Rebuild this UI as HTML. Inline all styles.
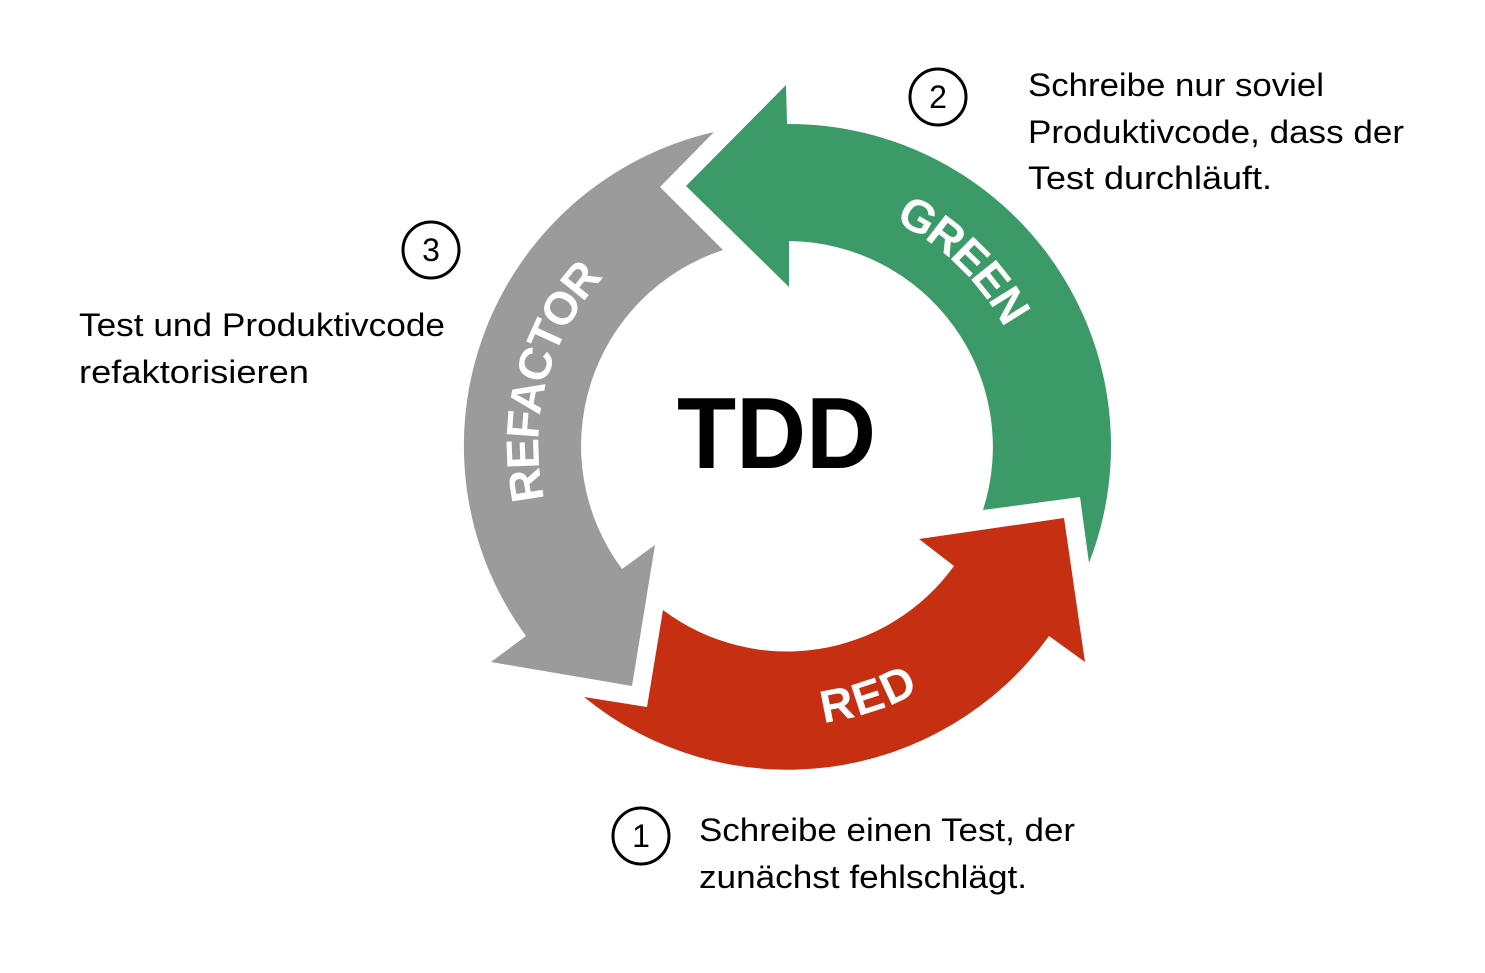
<!DOCTYPE html>
<html><head><meta charset="utf-8"><style>html,body{margin:0;padding:0;background:#fff}</style></head>
<body>
<svg width="1485" height="968" viewBox="0 0 1485 968" xmlns="http://www.w3.org/2000/svg">
<defs>
<path id="pg" d="M 758,182 A264 264 0 0 1 1049,463"/>
<path id="pr" d="M 646,669 A264 264 0 0 0 1031,544"/>
<path id="pf" d="M 570,596 A264 264 0 0 1 674,206"/>
</defs>
<path fill="#3c9a68" d="M787,124 A322,322 0 0 1 1089,563 L1080,497 L983,510 A206,206 0 0 0 789,241 L789,287 L686,186 L786,85 Z"/>
<path fill="#c72f13" d="M663,610 A206,206 0 0 0 954,566 L919,539 L1064,518 L1085,662 L1049,636 A322,322 0 0 1 584,697 L647,707 Z"/>
<path fill="#9b9b9b" d="M622,569 A206,206 0 0 1 723,250 L660,187 L714,132 A322,322 0 0 0 526,636 L491,662 L632,686 L655,545 Z"/>
<g font-family="Liberation Sans, sans-serif" font-weight="bold" font-size="46" fill="#fff" dominant-baseline="central">
<text><textPath href="#pg" startOffset="50%" text-anchor="middle">GREEN</textPath></text>
<text><textPath href="#pr" startOffset="50%" text-anchor="middle">RED</textPath></text>
<text><textPath href="#pf" startOffset="50%" text-anchor="middle">REFACTOR</textPath></text>
</g>
<text x="677" y="468" font-family="Liberation Sans, sans-serif" font-weight="bold" font-size="101" textLength="199" lengthAdjust="spacingAndGlyphs">TDD</text>
<g fill="none" stroke="#000" stroke-width="3">
<circle cx="938" cy="97" r="28"/>
<circle cx="431" cy="250" r="28"/>
<circle cx="641" cy="836" r="28"/>
</g>
<g font-family="Liberation Sans, sans-serif" font-size="32" fill="#000">
<text x="938" y="108" text-anchor="middle">2</text>
<text x="431" y="261" text-anchor="middle">3</text>
<text x="641" y="847" text-anchor="middle">1</text>
<text x="1028" y="96" textLength="296" lengthAdjust="spacingAndGlyphs">Schreibe nur soviel</text>
<text x="1028" y="143" textLength="376" lengthAdjust="spacingAndGlyphs">Produktivcode, dass der</text>
<text x="1028" y="189" textLength="244" lengthAdjust="spacingAndGlyphs">Test durchläuft.</text>
<text x="79" y="336" textLength="366" lengthAdjust="spacingAndGlyphs">Test und Produktivcode</text>
<text x="79" y="383" textLength="230" lengthAdjust="spacingAndGlyphs">refaktorisieren</text>
<text x="699" y="841" textLength="376" lengthAdjust="spacingAndGlyphs">Schreibe einen Test, der</text>
<text x="699" y="888" textLength="328" lengthAdjust="spacingAndGlyphs">zunächst fehlschlägt.</text>
</g>
</svg>
</body></html>
